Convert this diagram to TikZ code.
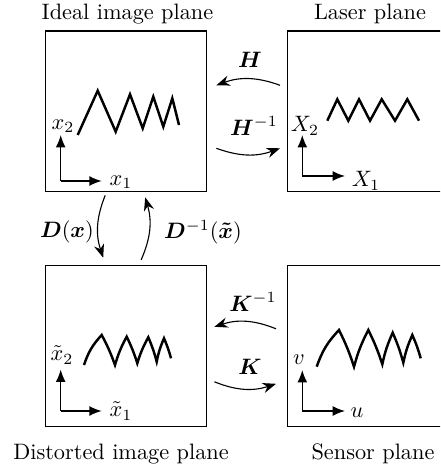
\documentclass[tikz,border=0pt]{standalone}
\usepackage{amsmath}
\usepackage{bm}
\usetikzlibrary{calc,arrows.meta}
\begin{document}
\begin{tikzpicture}[x=0.4484pt,y=-0.4484pt,
  box/.style={draw,line width=0.6pt,minimum width=72.2pt,minimum height=72.1pt,inner sep=0pt},
  ttl/.style={inner sep=0pt,font=\normalsize},
  lbl/.style={inner sep=0pt},
  axis/.style={line width=0.6pt,-{Latex[length=5.5pt,width=4.4pt]}},
  conn/.style={line width=0.5pt,-{Stealth[length=6pt,width=4.6pt]}},
  zig/.style={line width=1.1pt,line join=miter}]
\clip (0,0) rectangle (440,468);
% boxes
\node[box] (ideal) at (126.2,111.3) {};
\node[box] (laser) at (368.2,111.3) {};
\node[box] (dist) at (126.2,345.8) {};
\node[box] (sens) at (368.2,345.8) {};
% titles
\node[ttl] (t1) at (127.5,14) {Ideal image plane};
\node[ttl] (t2) at (370,14) {Laser plane};
\node[ttl] (t3) at (121,454) {Distorted image plane};
\node[ttl] (t4) at (373,454) {Sensor plane};
% axes ideal
\coordinate (o1) at (60.7,181);
\coordinate (a1x) at (101.7,181);
\coordinate (a1y) at (60.7,135);
\draw[axis] (o1) -- (a1x);
\draw[axis] (o1) -- (a1y);
\node[lbl] (lx1) at (121,182) {$x_1$};
\node[lbl] (lx2) at (63,126) {$x_2$};
% axes laser
\coordinate (o2) at (302.3,176);
\coordinate (a2x) at (345,176);
\coordinate (a2y) at (302.3,135);
\draw[axis] (o2) -- (a2x);
\draw[axis] (o2) -- (a2y);
\node[lbl] (lX1) at (366,181) {$X_1$};
\node[lbl] (lX2) at (305,126) {$X_2$};
% axes distorted
\coordinate (o3) at (60.7,411);
\coordinate (a3x) at (101.7,411);
\coordinate (a3y) at (60.7,369.5);
\draw[axis] (o3) -- (a3x);
\draw[axis] (o3) -- (a3y);
\node[lbl] (lu1) at (121,411) {$\tilde{x}_1$};
\node[lbl] (lu2) at (62,355) {$\tilde{x}_2$};
% axes sensor
\coordinate (o4) at (302.3,411);
\coordinate (a4x) at (345,411);
\coordinate (a4y) at (302.3,370);
\draw[axis] (o4) -- (a4x);
\draw[axis] (o4) -- (a4y);
\node[lbl] (lu) at (357,413) {$u$};
\node[lbl] (lv) at (299,360) {$v$};
% zigzags
\draw[zig] (77.7,135) -- (97.7,90.7) -- (115.7,131.7) -- (130,94.3) -- (142.7,128.3) -- (153.3,96.7) -- (163.3,126.7) -- (172.3,98.3) -- (179,125);
\draw[zig] (327.3,120.7) -- (337.3,99.3) -- (348.3,120.7) -- (359,99.3) -- (370,120.7) -- (381.7,99.3) -- (395,120.7) -- (407.3,99.3) -- (419,120.7);
\draw[zig] (84,365) to[bend left=12] (101.7,335) to[bend left=4] (115,365) to[bend left=6] (126.7,336.7) to[bend left=4] (137.3,363.3) to[bend left=6] (148.3,337.3) to[bend left=4] (156.7,361.7) to[bend left=6] (164,338.3) to[bend left=4] (171,358.3);
\draw[zig] (316.7,366.7) to[bend left=12] (339,330) to[bend left=4] (354,366.7) to[bend left=6] (368.3,330) to[bend left=4] (382.3,364.3) to[bend left=6] (392.7,332.7) to[bend left=4] (403.3,362.7) to[bend left=6] (412.3,335) to[bend left=4] (420.7,358.3);
% connectors H
\draw[conn] ($(laser.west)+(-7,-26)$) to[bend right=20] ($(ideal.east)+(9,-26)$);
\draw[conn] ($(ideal.east)+(9,37)$) to[bend right=20] ($(laser.west)+(-7,37)$);
\node[lbl] (lH) at (250,60) {$\bm{H}$};
\node[lbl] (lHi) at (254,126) {$\bm{H}^{-1}$};
% connectors K
\draw[conn] ($(sens.west)+(-11,-17)$) to[bend right=20] ($(dist.east)+(7,-19)$);
\draw[conn] ($(dist.east)+(7,36)$) to[bend right=20] ($(sens.west)+(-11,38)$);
\node[lbl] (lKi) at (253,302) {$\bm{K}^{-1}$};
\node[lbl] (lK) at (250,367) {$\bm{K}$};
% connectors D
\draw[conn] ($(ideal.south)+(-21,3)$) to[bend right=20] ($(dist.north)+(-23,-7)$);
\draw[conn] ($(dist.north)+(15,-5)$) to[bend right=20] ($(ideal.south)+(19,5)$);
\node[lbl] (lD) at (67,232) {$\bm{D}(\bm{x})$};
\node[lbl] (lDi) at (203,232) {$\bm{D}^{-1}(\bm{\tilde{x}})$};
\end{tikzpicture}
\end{document}
